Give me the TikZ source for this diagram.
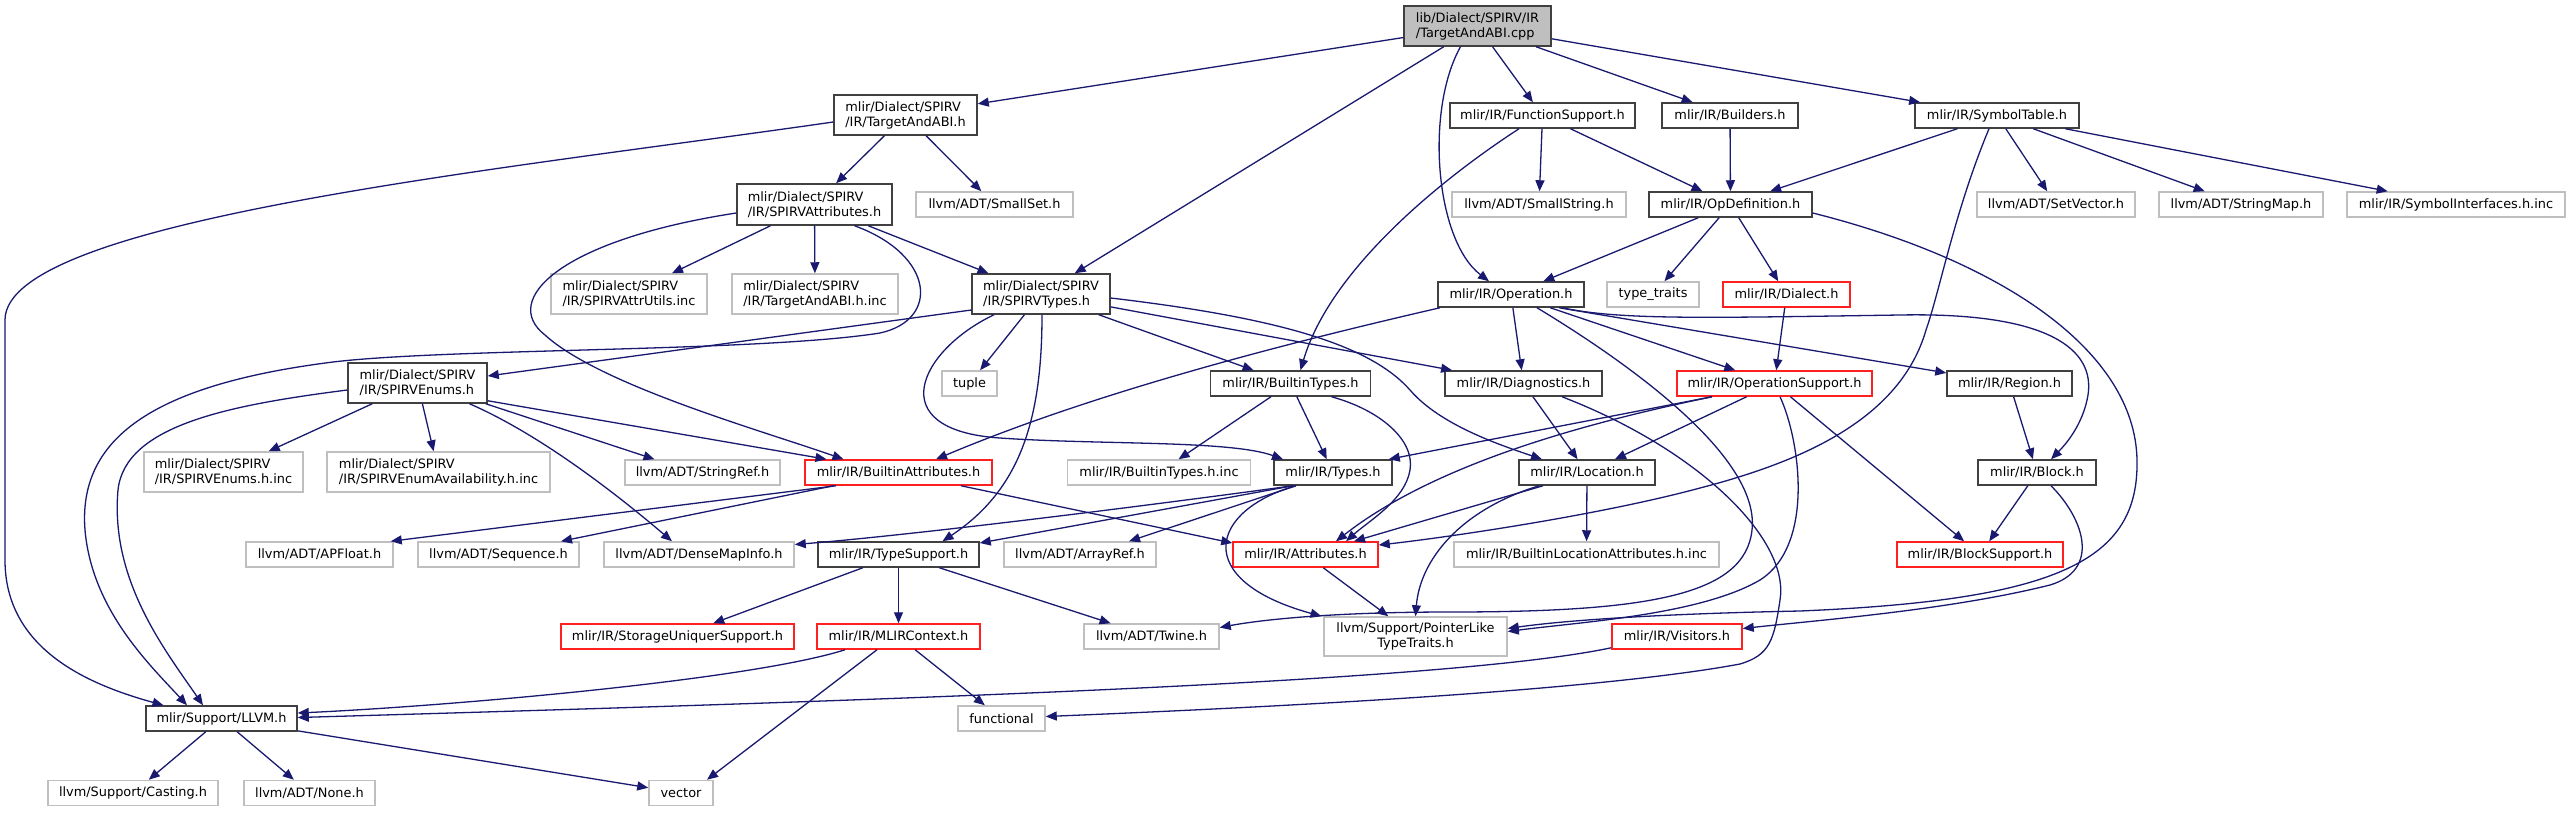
\documentclass[tikz,border=0pt]{standalone}
\usepackage{fontspec}
\setmainfont{DejaVu Sans}
\usetikzlibrary{arrows.meta}
\definecolor{edgec}{HTML}{191970}
\definecolor{bdark}{HTML}{404040}
\definecolor{bgray}{HTML}{BFBFBF}
\definecolor{bred}{HTML}{FF2020}
\definecolor{rootfill}{HTML}{BFBFBF}
\begin{document}
\begin{tikzpicture}[x=1pt,y=-1pt,
  box/.style={rectangle, inner sep=0pt, fill=white, line width=1.5pt, minimum height=25pt, font=\fontsize{12.9}{15}\selectfont},
  two/.style={minimum height=40pt, align=left},
  dk/.style={box, draw=bdark},
  gr/.style={box, draw=bgray},
  rd/.style={box, draw=bred},
  edg/.style={draw=edgec, line width=1.3pt, -{Triangle[length=11pt,width=9pt]}},
]
\fill[white] (0,0) rectangle (2571,812);
\useasboundingbox (0,0) rectangle (2571,812);

% row 1
\node[dk, two, fill=rootfill, minimum width=147pt] (root) at (1477.5,26) {lib/Dialect/SPIRV/IR\\/TargetAndABI.cpp};
% row 2
\node[dk, two, minimum width=143pt] (tabih) at (905.5,115) {mlir/Dialect/SPIRV\\/IR/TargetAndABI.h};
\node[dk, minimum width=185pt] (fs) at (1542.5,115.5) {mlir/IR/FunctionSupport.h};
\node[dk, minimum width=136pt] (bld) at (1730,115.5) {mlir/IR/Builders.h};
\node[dk, minimum width=164pt] (st) at (1997,115.5) {mlir/IR/SymbolTable.h};
% row 3
\node[dk, two, minimum width=155pt, minimum height=41pt] (spa) at (814.5,204.5) {mlir/Dialect/SPIRV\\/IR/SPIRVAttributes.h};
\node[gr, minimum width=157pt] (ss) at (994.5,204.5) {llvm/ADT/SmallSet.h};
\node[gr, minimum width=174pt] (sstr) at (1539,204.5) {llvm/ADT/SmallString.h};
\node[dk, minimum width=163pt] (opd) at (1730.5,204.5) {mlir/IR/OpDefinition.h};
\node[gr, minimum width=158pt] (sv) at (2056,204.5) {llvm/ADT/SetVector.h};
\node[gr, minimum width=164pt] (sm) at (2241,204.5) {llvm/ADT/StringMap.h};
\node[gr, minimum width=218pt] (sif) at (2456,204.5) {mlir/IR/SymbolInterfaces.h.inc};
% row 4
\node[gr, two, minimum width=156pt] (sau) at (629,294) {mlir/Dialect/SPIRV\\/IR/SPIRVAttrUtils.inc};
\node[gr, two, minimum width=166pt] (tinc) at (815,294) {mlir/Dialect/SPIRV\\/IR/TargetAndABI.h.inc};
\node[dk, two, minimum width=138pt] (spt) at (1041,294) {mlir/Dialect/SPIRV\\/IR/SPIRVTypes.h};
\node[dk, minimum width=146pt] (op) at (1511,294.5) {mlir/IR/Operation.h};
\node[gr, minimum width=92pt] (tt) at (1653,294.5) {type\_traits};
\node[rd, minimum width=127pt] (dia) at (1786.5,294.5) {mlir/IR/Dialect.h};
% row 5
\node[dk, two, minimum width=139pt] (spe) at (417.5,383) {mlir/Dialect/SPIRV\\/IR/SPIRVEnums.h};
\node[gr, minimum width=55pt] (tup) at (969.5,383.5) {tuple};
\node[dk, minimum width=160pt] (bt) at (1290.5,383.5) {mlir/IR/BuiltinTypes.h};
\node[dk, minimum width=157pt] (dg) at (1523.5,383.5) {mlir/IR/Diagnostics.h};
\node[rd, minimum width=195pt] (ops) at (1774.5,383.5) {mlir/IR/OperationSupport.h};
\node[dk, minimum width=125pt] (rg) at (2009.5,383.5) {mlir/IR/Region.h};
% row 6
\node[gr, two, minimum width=159pt] (sei) at (223.5,472) {mlir/Dialect/SPIRV\\/IR/SPIRVEnums.h.inc};
\node[gr, two, minimum width=223pt] (sea) at (438.5,472) {mlir/Dialect/SPIRV\\/IR/SPIRVEnumAvailability.h.inc};
\node[gr, minimum width=155pt] (sr) at (702.5,472.5) {llvm/ADT/StringRef.h};
\node[rd, minimum width=187pt] (bia) at (898.5,472.5) {mlir/IR/BuiltinAttributes.h};
\node[gr, minimum width=183pt] (bti) at (1159,472.5) {mlir/IR/BuiltinTypes.h.inc};
\node[dk, minimum width=118pt] (ty) at (1333,472.5) {mlir/IR/Types.h};
\node[dk, minimum width=136pt] (loc) at (1587,472.5) {mlir/IR/Location.h};
\node[dk, minimum width=118pt] (blk) at (2037,472.5) {mlir/IR/Block.h};
% row 7
\node[gr, minimum width=147pt] (apf) at (319.5,554.5) {llvm/ADT/APFloat.h};
\node[gr, minimum width=161pt] (seq) at (498.5,554.5) {llvm/ADT/Sequence.h};
\node[gr, minimum width=190pt] (dmi) at (699,554.5) {llvm/ADT/DenseMapInfo.h};
\node[dk, minimum width=161pt] (ts) at (898.5,554.5) {mlir/IR/TypeSupport.h};
\node[gr, minimum width=152pt] (ar) at (1080,554.5) {llvm/ADT/ArrayRef.h};
\node[rd, minimum width=145pt] (attr) at (1305.5,554.5) {mlir/IR/Attributes.h};
\node[gr, minimum width=265pt] (bla) at (1586.5,554.5) {mlir/IR/BuiltinLocationAttributes.h.inc};
\node[rd, minimum width=166pt] (bs) at (1980,554.5) {mlir/IR/BlockSupport.h};
% row 8
\node[rd, minimum width=233pt] (sus) at (677.5,636.5) {mlir/IR/StorageUniquerSupport.h};
\node[rd, minimum width=163pt] (ctx) at (898.5,636.5) {mlir/IR/MLIRContext.h};
\node[gr, minimum width=135pt] (tw) at (1151.5,636.5) {llvm/ADT/Twine.h};
\node[gr, minimum width=183pt, minimum height=39pt, align=center] (plt) at (1415.5,636.5) {llvm/Support/PointerLike\\TypeTraits.h};
\node[rd, minimum width=130pt] (vis) at (1677,636.5) {mlir/IR/Visitors.h};
% row 9
\node[dk, minimum width=151pt] (llvm) at (221.5,718.5) {mlir/Support/LLVM.h};
\node[gr, minimum width=87pt] (fn) at (1001.5,718.5) {functional};
% row 10
\node[gr, minimum width=170pt] (cst) at (133,793) {llvm/Support/Casting.h};
\node[gr, minimum width=131pt] (non) at (309.5,793) {llvm/ADT/None.h};
\node[gr, minimum width=64pt] (vec) at (681,793) {vector};

% ---- edges ----
% root
\draw[edg] (root) -- (tabih);
\draw[edg] (root) -- (spt);
\draw[edg] ([xshift=-17pt]root.south) .. controls (1425,110) and (1435,240) .. ([xshift=-22pt]op.north);
\draw[edg] (root) -- (fs);
\draw[edg] (root) -- (bld);
\draw[edg] (root) -- (st);
% TargetAndABI.h
\draw[edg] (tabih) -- (spa);
\draw[edg] (tabih) -- (ss);
\draw[edg] ([yshift=-7pt]tabih.west) .. controls (500,170) and (5,220) .. (5,320) -- (5,560) .. controls (5,650) and (90,685) .. ([xshift=-58pt]llvm.north);
% SPIRVAttributes.h
\draw[edg] (spa) -- (sau);
\draw[edg] (spa) -- (tinc);
\draw[edg] (spa) -- (spt);
\draw[edg] ([yshift=-8.5pt]spa.west) .. controls (560,240) and (500,300) .. (545,335) .. controls (600,385) and (760,430) .. ([xshift=-55pt]bia.north);
\draw[edg] ([xshift=40pt]spa.south) .. controls (935,255) and (940,320) .. (880,333) .. controls (760,352) and (450,348) .. (333,362) .. controls (150,385) and (78,440) .. (85,530) .. controls (92,610) and (150,665) .. ([xshift=-34.5pt]llvm.north);
% SPIRVTypes.h
\draw[edg] ([yshift=-16pt]spt.west) -- ([yshift=7pt]spe.east);
\draw[edg] (spt) -- (tup);
\draw[edg] ([xshift=1pt]spt.south) .. controls (1042,420) and (1020,490) .. ([xshift=44pt]ts.north);
\draw[edg] (spt) -- (bt);
\draw[edg] (spt) -- (dg);
\draw[edg] ([yshift=-4pt]spt.east) .. controls (1280,318) and (1370,345) .. (1410,390) .. controls (1440,425) and (1500,445) .. ([xshift=-45pt]loc.north);
\draw[edg] ([xshift=-47pt]spt.south) .. controls (920,350) and (880,430) .. (1000,438) .. controls (1100,445) and (1230,440) .. ([xshift=-50pt]ty.north);
% SPIRVEnums.h
\draw[edg] (spe) -- (sei);
\draw[edg] (spe) -- (sea);
\draw[edg] ([xshift=-2pt]spe.south east) -- ([xshift=-48pt]sr.north);
\draw[edg] ([yshift=3pt]spe.south east) -- ([xshift=-72pt]bia.north);
\draw[edg] ([xshift=52pt]spe.south) .. controls (530,430) and (600,480) .. ([xshift=-27pt]dmi.north);
\draw[edg] ([yshift=-7pt]spe.west) .. controls (230,405) and (125,425) .. (118,490) .. controls (110,580) and (165,650) .. ([xshift=-18.5pt]llvm.north);
% BuiltinTypes.h
\draw[edg] (bt) -- (bti);
\draw[edg] (bt) -- (ty);
\draw[edg] ([xshift=41pt]bt.south) .. controls (1380,410) and (1415,440) .. (1410,470) .. controls (1405,500) and (1370,520) .. ([xshift=40.5pt]attr.north);
% FunctionSupport.h
\draw[edg] (fs) -- (sstr);
\draw[edg] (fs) -- (opd);
\draw[edg] ([xshift=-23.5pt]fs.south) .. controls (1440,180) and (1330,270) .. ([xshift=10pt]bt.north);
% Builders.h
\draw[edg] (bld) -- (opd);
% SymbolTable.h
\draw[edg] (st) -- (opd);
\draw[edg] (st) -- (sv);
\draw[edg] (st) -- (sm);
\draw[edg] (st) -- (sif);
\draw[edg] ([xshift=-8pt]st.south) .. controls (1955,210) and (1940,290) .. (1926,330) .. controls (1900,420) and (1800,462) .. (1700,488) .. controls (1600,515) and (1450,537) .. ([yshift=9.5pt]attr.east);
% OpDefinition.h
\draw[edg] (opd) -- (op);
\draw[edg] (opd) -- (tt);
\draw[edg] (opd) -- (dia);
\draw[edg] ([yshift=-8.5pt]opd.east) .. controls (2000,260) and (2135,350) .. (2137,460) .. controls (2139,560) and (2060,600) .. (1800,611) .. controls (1650,614) and (1560,621) .. ([yshift=8pt]plt.east);
% Operation.h
\draw[edg] ([xshift=-71pt]op.south) .. controls (1300,340) and (1100,390) .. ([xshift=37.5pt]bia.north);
\draw[edg] (op) -- (dg);
\draw[edg] (op) -- (ops);
\draw[edg] ([xshift=48pt]op.south) -- (rg);
\draw[edg] ([xshift=51pt]op.south) .. controls (1620,320) and (1700,318) .. (1900,315) .. controls (2050,312) and (2095,350) .. (2088,395) .. controls (2083,425) and (2065,445) .. ([xshift=14pt]blk.north);
\draw[edg] ([xshift=26pt]op.south) .. controls (1640,370) and (1760,460) .. (1752,530) .. controls (1745,595) and (1650,612) .. (1450,612) .. controls (1330,612) and (1260,620) .. ([yshift=9pt]tw.east);
% OperationSupport.h
\draw[edg] ([xshift=-62.5pt]ops.south) -- ([xshift=-4pt]ty.north east);
\draw[edg] ([xshift=-62.5pt]ops.south) .. controls (1600,420) and (1440,460) .. ([xshift=30.5pt]attr.north);
\draw[edg] (ops) -- (loc);
\draw[edg] (ops) -- (bs);
\draw[edg] ([xshift=5.5pt]ops.south) .. controls (1800,440) and (1815,545) .. (1760,580) .. controls (1700,615) and (1580,622) .. ([yshift=5pt]plt.east);
% Dialect.h
\draw[edg] (dia) -- (ops);
% Diagnostics.h
\draw[edg] (dg) -- (loc);
\draw[edg] ([xshift=38.5pt]dg.south) .. controls (1700,450) and (1790,540) .. (1780,600) .. controls (1774,640) and (1770,655) .. (1740,664) .. controls (1600,690) and (1300,706) .. ([yshift=2pt]fn.east);
% Region.h
\draw[edg] (rg) -- (blk);
% Location.h
\draw[edg] (loc) -- (bla);
\draw[edg] ([xshift=-44pt]loc.south) -- ([xshift=48.5pt]attr.north);
\draw[edg] ([xshift=-48pt]loc.south) .. controls (1460,510) and (1420,560) .. (plt.north);
% Block.h
\draw[edg] (blk) -- (bs);
\draw[edg] ([xshift=14pt]blk.south) .. controls (2085,520) and (2100,570) .. (2050,585) .. controls (1950,610) and (1820,620) .. ([yshift=8pt]vis.east);
% Types.h
\draw[edg] ([xshift=-40pt]ty.south) -- ([yshift=11.5pt]ts.east);
\draw[edg] ([xshift=-40pt]ty.south) .. controls (1100,512) and (900,536) .. ([yshift=10pt]dmi.east);
\draw[edg] ([xshift=-37pt]ty.south) -- ([xshift=49pt]ar.north);
\draw[edg] ([xshift=-37pt]ty.south) .. controls (1210,510) and (1190,580) .. ([xshift=-94pt]plt.north);
% TypeSupport.h
\draw[edg] (ts) -- (sus);
\draw[edg] (ts) -- (ctx);
\draw[edg] (ts) -- (tw);
% Attributes.h
\draw[edg] (attr) -- (plt);
% BuiltinAttributes.h
\draw[edg] ([xshift=-62.5pt]bia.south) -- ([xshift=-3pt]apf.north east);
\draw[edg] ([xshift=-65pt]bia.south) -- ([xshift=62.5pt]seq.north);
\draw[edg] ([xshift=62.5pt]bia.south) -- ([yshift=11.5pt]attr.west);
% MLIRContext.h
\draw[edg] ([xshift=-53.5pt]ctx.south) .. controls (750,680) and (450,706) .. ([yshift=5.5pt]llvm.east);
\draw[edg] (ctx) -- (fn);
\draw[edg] ([xshift=-21.5pt]ctx.south) -- ([xshift=26pt]vec.north);
% LLVM.h
\draw[edg] (llvm) -- (cst);
\draw[edg] (llvm) -- (non);
\draw[edg] (llvm) -- (vec);
% Visitors.h
\draw[edg] ([yshift=2pt]vis.south west) .. controls (1450,682) and (900,700) .. ([yshift=1pt]llvm.east);
\end{tikzpicture}
\end{document}
